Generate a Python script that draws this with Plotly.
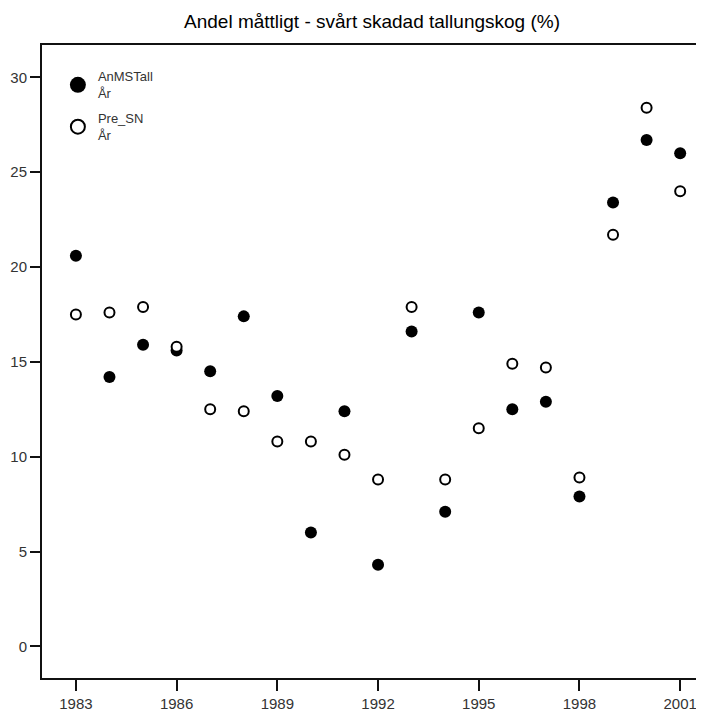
import plotly.graph_objects as go

years = list(range(1983, 2002))
an_ms_tall = [20.6, 14.2, 15.9, 15.6, 14.5, 17.4, 13.2, 6.0, 12.4, 4.3,
              16.6, 7.1, 17.6, 12.5, 12.9, 7.9, 23.4, 26.7, 26.0]
pre_sn = [17.5, 17.6, 17.9, 15.8, 12.5, 12.4, 10.8, 10.8, 10.1, 8.8,
          17.9, 8.8, 11.5, 14.9, 14.7, 8.9, 21.7, 28.4, 24.0]
x_ticks = [1983, 1986, 1989, 1992, 1995, 1998, 2001]
y_ticks = [0, 5, 10, 15, 20, 25, 30]

font = "Liberation Sans, Arial, sans-serif"
fig = go.Figure()

fig.add_trace(go.Scatter(x=years, y=an_ms_tall, mode="markers", showlegend=False,
                         marker=dict(size=12, color="black", line=dict(width=0))))
fig.add_trace(go.Scatter(x=years, y=pre_sn, mode="markers", showlegend=False,
                         marker=dict(size=10, color="white", line=dict(width=2, color="black"))))
# legend entries
fig.add_trace(go.Scatter(x=[None], y=[None], mode="markers", name="AnMSTall<br>År",
                         legendgroup="a",
                         marker=dict(size=16, color="black", line=dict(width=0))))
fig.add_trace(go.Scatter(x=[None], y=[None], mode="markers", name="Pre_SN<br>År",
                         legendgroup="b",
                         marker=dict(size=14, color="white", line=dict(width=2, color="black"))))

fig.update_layout(
    width=696, height=703,
    margin=dict(l=34, r=0, t=37, b=33),
    paper_bgcolor="white", plot_bgcolor="white",
    title=dict(text="Andel måttligt - svårt skadad tallungskog (%)",
               x=0.523, xanchor="center", y=0.981, yanchor="middle",
               font=dict(family=font, size=19, color="black")),
    font=dict(family=font, size=15, color="#333"),
    legend=dict(x=0.024, y=0.974, xanchor="left", yanchor="top",
                bgcolor="rgba(0,0,0,0)", font=dict(size=13, color="#333"),
                tracegroupgap=5, itemwidth=30, valign="middle"),
    xaxis=dict(range=[1981.99, 2001.71], tickvals=x_ticks, showgrid=False, zeroline=False,
               showline=True, linecolor="#111", linewidth=2, mirror=True,
               ticks="outside", ticklen=11, tickwidth=2, tickcolor="#111",
               automargin=False),
    yaxis=dict(range=[-1.67, 31.71], tickvals=y_ticks, showgrid=False, zeroline=False,
               showline=True, linecolor="#111", linewidth=2,
               ticks="outside", ticklen=10, tickwidth=2, tickcolor="#111",
               automargin=False),
)

fig.write_html("out.html")
